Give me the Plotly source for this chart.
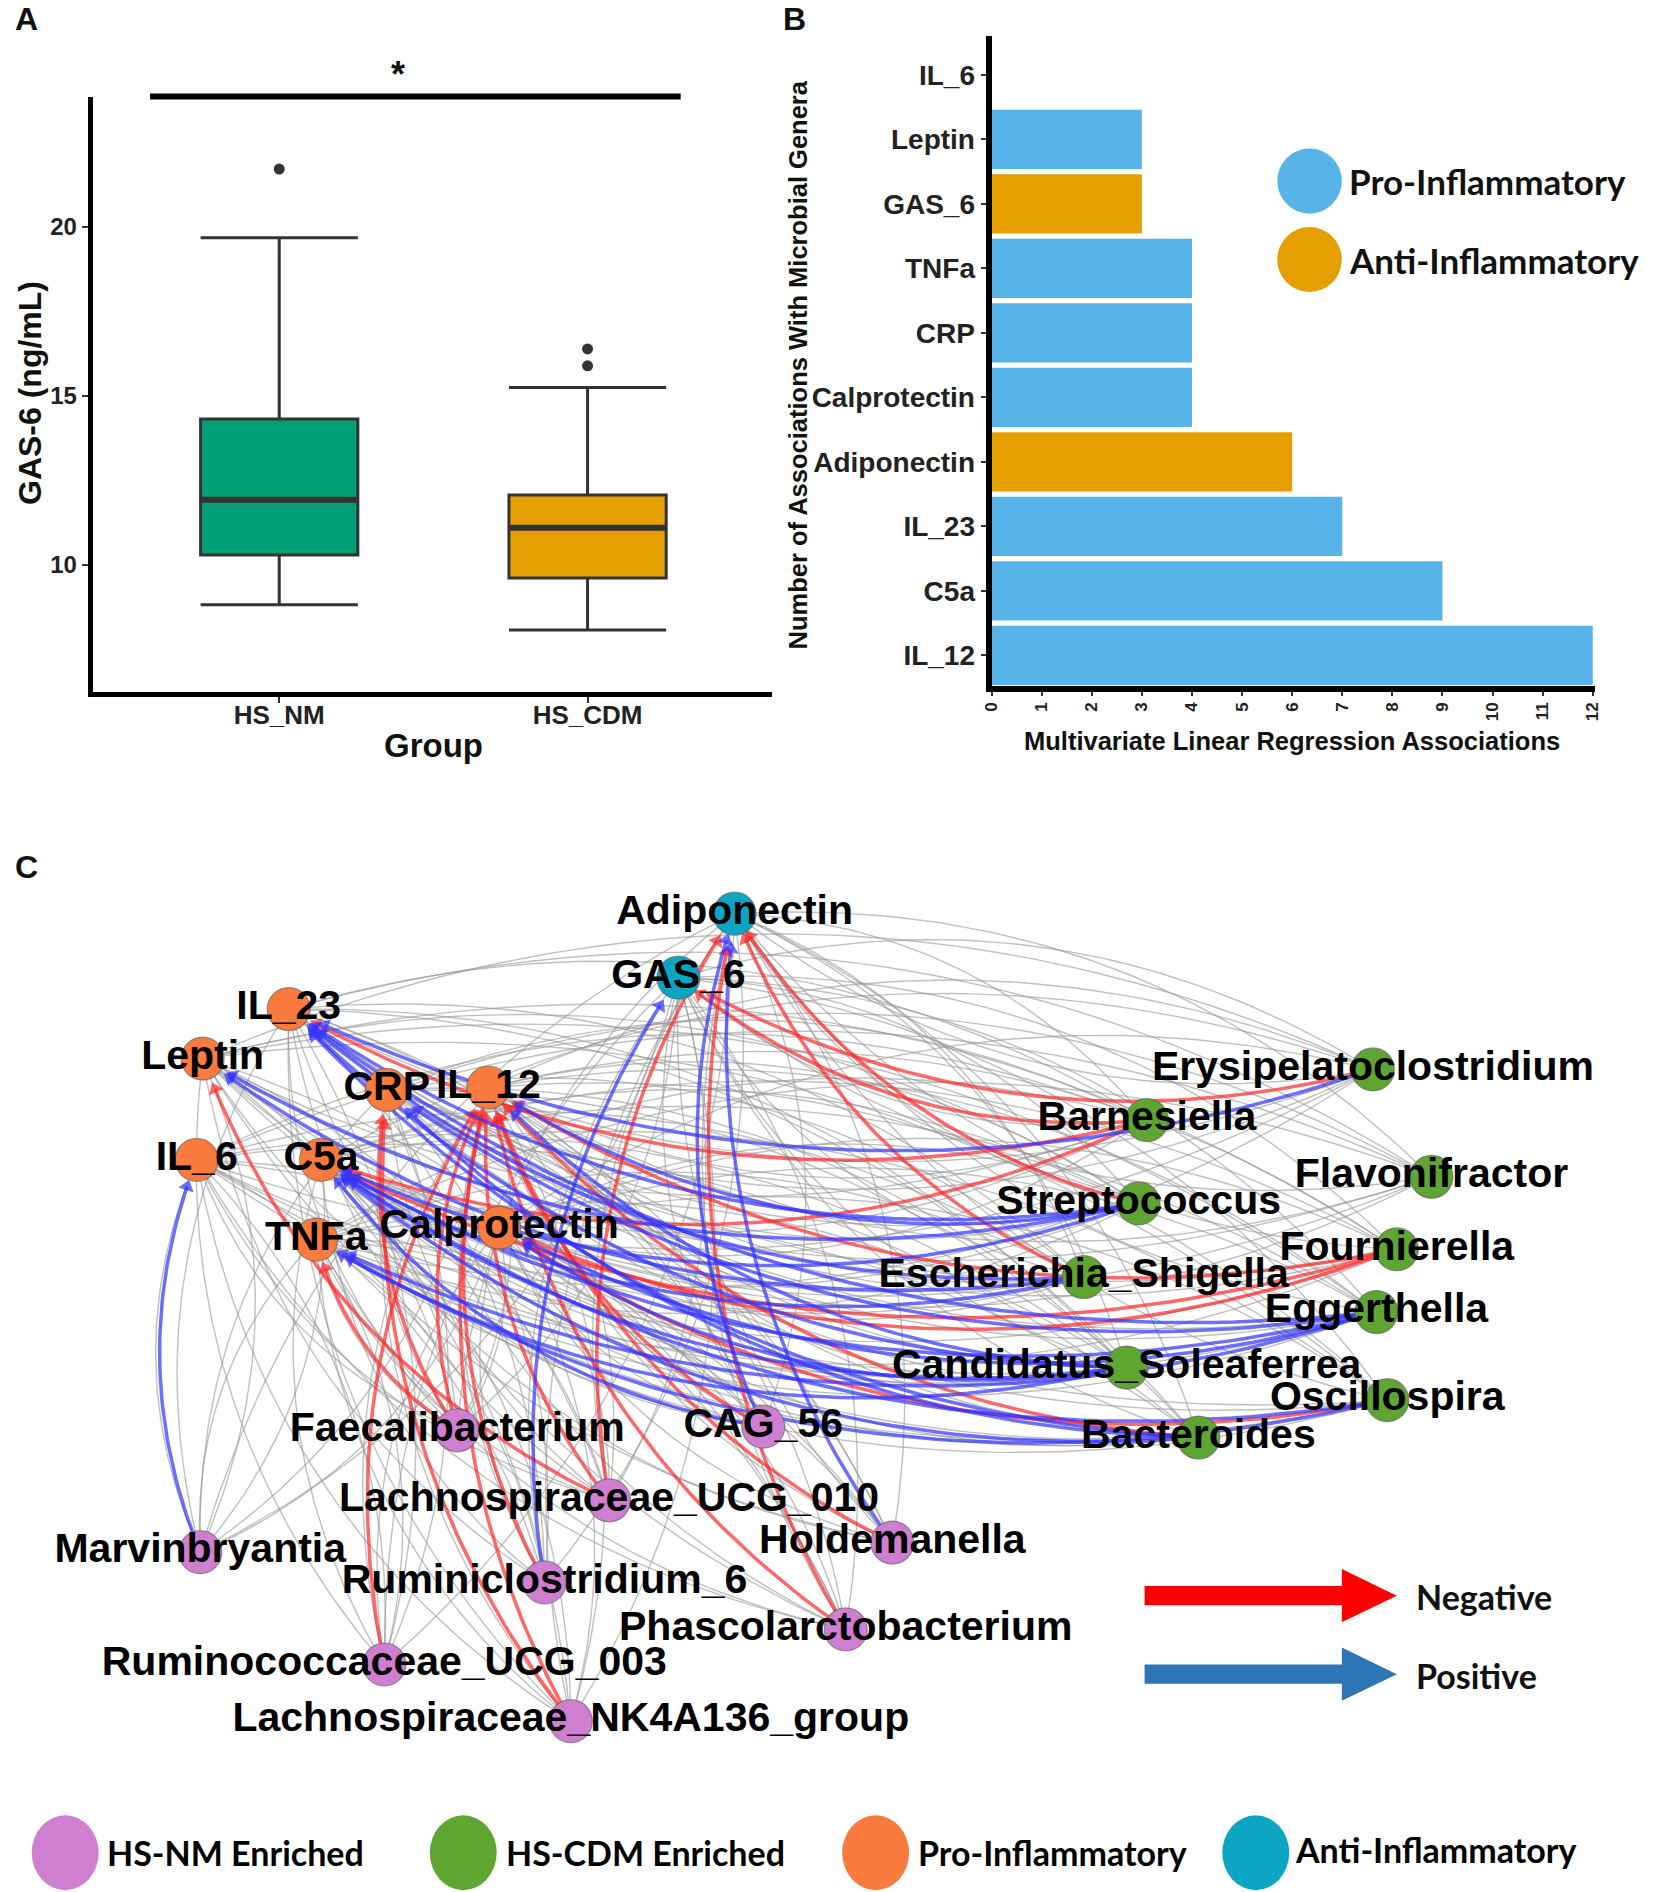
import numpy as np
import plotly.graph_objects as go

W, H = 1654, 1892
LW, LH = 1370.3, 1567.5  # layout units used for placement (figure = LW x LH)


def px(v):
    return v / LW


def py(v):
    return 1 - v / LH


# ---------------- Panel A data ----------------
groups = ["HS_NM", "HS_CDM"]
q1 = [10.29, 9.61]
medians = [11.93, 11.10]
q3 = [14.32, 12.07]
lower_whisker = [8.82, 8.07]
upper_whisker = [19.68, 15.25]
outlier_values = [[21.71], [15.89, 16.39]]
box_fill = ["#03A077", "#E69F00"]

# ---------------- Panel B data ----------------
markers_b = ["IL_12", "C5a", "IL_23", "Adiponectin", "Calprotectin", "CRP",
             "TNFa", "GAS_6", "Leptin", "IL_6"]
assoc_counts = [12, 9, 7, 6, 4, 4, 4, 3, 3, 0]
marker_type = ["Pro", "Pro", "Pro", "Anti", "Pro", "Pro", "Pro", "Anti", "Pro", "Pro"]
type_color = {"Pro": "#56B4E9", "Anti": "#E69F00"}

# ---------------- Panel C data (network layout) ----------------
node_names = ["Adiponectin", "GAS_6", "IL_23", "Leptin", "CRP", "IL_12", "IL_6", "C5a",
              "TNFa", "Calprotectin",
              "Erysipelatoclostridium", "Barnesiella", "Streptococcus", "Flavonifractor",
              "Fournierella", "Escherichia_Shigella", "Eggerthella", "Candidatus_Soleaferrea",
              "Oscillospira", "Bacteroides",
              "Faecalibacterium", "CAG_56", "Lachnospiraceae_UCG_010", "Holdemanella",
              "Marvinbryantia", "Ruminiclostridium_6", "Phascolarctobacterium",
              "Ruminococcaceae_UCG_003", "Lachnospiraceae_NK4A136_group"]
node_x = [607, 560, 234, 162, 316, 401, 157, 261, 257, 410,
          1141, 952, 945, 1190, 1161, 899, 1144, 935, 1153, 995,
          375, 631, 502, 739, 160, 448, 700, 314, 470]
node_y = [757, 810, 836, 877, 903, 901, 961, 961, 1027, 1017,
          886, 928, 997, 975, 1035, 1058, 1087, 1133, 1160, 1191,
          1185, 1182, 1243, 1278, 1286, 1311, 1350, 1379, 1426]
node_group = ["anti", "anti"] + ["pro"] * 8 + ["cdm"] * 10 + ["nm"] * 9
group_color = {"pro": "#FB7A3E", "anti": "#0DA5C4", "cdm": "#5EA532", "nm": "#D07FD0"}

# significant associations: (genus, marker, sign)
sig_edges = [
    ("Ruminococcaceae_UCG_003", "IL_12", -1), ("Lachnospiraceae_NK4A136_group", "IL_12", -1),
    ("Faecalibacterium", "IL_12", -1), ("Lachnospiraceae_UCG_010", "IL_12", -1),
    ("Phascolarctobacterium", "IL_12", -1), ("Holdemanella", "IL_12", -1),
    ("CAG_56", "IL_12", -1), ("Ruminiclostridium_6", "IL_12", -1),
    ("Streptococcus", "IL_12", 1), ("Candidatus_Soleaferrea", "IL_12", 1),
    ("Bacteroides", "IL_12", -1), ("Fournierella", "IL_12", -1),
    ("Eggerthella", "C5a", 1), ("Bacteroides", "C5a", 1), ("Candidatus_Soleaferrea", "C5a", 1),
    ("Escherichia_Shigella", "C5a", 1), ("Fournierella", "C5a", -1), ("Streptococcus", "C5a", 1),
    ("Oscillospira", "C5a", 1), ("CAG_56", "C5a", 1), ("Barnesiella", "C5a", -1),
    ("Erysipelatoclostridium", "IL_23", 1), ("Streptococcus", "IL_23", 1),
    ("Escherichia_Shigella", "IL_23", 1), ("Eggerthella", "IL_23", 1),
    ("Bacteroides", "IL_23", 1), ("Candidatus_Soleaferrea", "IL_23", 1),
    ("Barnesiella", "IL_23", -1),
    ("CAG_56", "Adiponectin", 1), ("Holdemanella", "Adiponectin", 1),
    ("Escherichia_Shigella", "Adiponectin", -1), ("Streptococcus", "Adiponectin", -1),
    ("Lachnospiraceae_UCG_010", "Adiponectin", -1), ("Phascolarctobacterium", "Adiponectin", -1),
    ("Ruminiclostridium_6", "GAS_6", 1), ("Barnesiella", "GAS_6", -1),
    ("Erysipelatoclostridium", "GAS_6", -1),
    ("Eggerthella", "Calprotectin", 1), ("Oscillospira", "Calprotectin", -1),
    ("Candidatus_Soleaferrea", "Calprotectin", 1), ("Fournierella", "Calprotectin", -1),
    ("Faecalibacterium", "CRP", -1), ("Eggerthella", "CRP", 1), ("Bacteroides", "CRP", 1),
    ("Lachnospiraceae_NK4A136_group", "CRP", -1),
    ("Eggerthella", "TNFa", 1), ("Candidatus_Soleaferrea", "TNFa", 1),
    ("Faecalibacterium", "TNFa", -1), ("Oscillospira", "TNFa", 1),
    ("Lachnospiraceae_UCG_010", "Leptin", -1), ("Streptococcus", "Leptin", 1),
    ("Escherichia_Shigella", "Leptin", 1),
    ("Marvinbryantia", "IL_6", 1),
]

legend_c_labels = ["HS-NM Enriched", "HS-CDM Enriched", "Pro-Inflammatory", "Anti-Inflammatory"]
legend_c_groups = ["nm", "cdm", "pro", "anti"]

# ---------------- helpers ----------------
pos = {n: (x, y) for n, x, y in zip(node_names, node_x, node_y)}
cyto = [n for n, g in zip(node_names, node_group) if g in ("pro", "anti")]
microbes = [n for n, g in zip(node_names, node_group) if g in ("cdm", "nm")]
NODE_R = 18.0


def bezier(p0, p2, k, trim_end=0.0, n=60):
    dx, dy = p2[0] - p0[0], p2[1] - p0[1]
    cx = (p0[0] + p2[0]) / 2 + k * dy
    cy = (p0[1] + p2[1]) / 2 - k * dx
    t = np.linspace(0, 1, n)
    x = (1 - t) ** 2 * p0[0] + 2 * (1 - t) * t * cx + t ** 2 * p2[0]
    y = (1 - t) ** 2 * p0[1] + 2 * (1 - t) * t * cy + t ** 2 * p2[1]
    if trim_end > 0:
        d = np.hypot(x - p2[0], y - p2[1])
        keep = d > trim_end
        x, y = x[keep], y[keep]
    return x, y


fig = go.Figure()

# ---------------- Panel A ----------------
for i, g in enumerate(groups):
    fig.add_trace(go.Box(
        x=[i], q1=[q1[i]], median=[medians[i]], q3=[q3[i]],
        lowerfence=[lower_whisker[i]], upperfence=[upper_whisker[i]],
        width=0.51, whiskerwidth=1, fillcolor=box_fill[i],
        line=dict(color="#333333", width=3), boxpoints=False,
        hoverinfo="skip", showlegend=False, xaxis="x", yaxis="y"))
    fig.add_trace(go.Scatter(
        x=[i - 0.255, i + 0.255], y=[medians[i], medians[i]], mode="lines",
        line=dict(color="#333333", width=6), showlegend=False, hoverinfo="skip",
        xaxis="x", yaxis="y"))
    fig.add_trace(go.Scatter(
        x=[i] * len(outlier_values[i]), y=outlier_values[i], mode="markers",
        marker=dict(color="#333333", size=11), showlegend=False, hoverinfo="skip",
        xaxis="x", yaxis="y"))

# ---------------- Panel B ----------------
fig.add_trace(go.Bar(
    y=markers_b, x=assoc_counts, orientation="h",
    marker=dict(color=[type_color[t] for t in marker_type], line=dict(width=0)),
    showlegend=False, hoverinfo="skip", xaxis="x2", yaxis="y2"))

# ---------------- Panel C ----------------
gx, gy = [], []
for i, c in enumerate(cyto):
    for j, m in enumerate(microbes):
        if (i + j) % 2 == 0:
            x, y = bezier(pos[m], pos[c], 0.22)
        else:
            x, y = bezier(pos[c], pos[m], 0.22)
        gx += list(x) + [None]
        gy += list(y) + [None]
fig.add_trace(go.Scatter(x=gx, y=gy, mode="lines",
                         line=dict(color="rgba(150,150,150,0.6)", width=1.4),
                         hoverinfo="skip", showlegend=False, xaxis="x3", yaxis="y3"))

for sign, col in [(-1, "rgba(255,40,40,0.7)"), (1, "rgba(50,50,255,0.7)")]:
    ex, ey, ax_, ay_, ang = [], [], [], [], []
    for m, c, s in sig_edges:
        if s != sign:
            continue
        x, y = bezier(pos[m], pos[c], 0.2, trim_end=NODE_R + 4)
        ex += list(x) + [None]
        ey += list(y) + [None]
        ux, uy = x[-1] - x[-3], y[-1] - y[-3]
        ax_.append(x[-1])
        ay_.append(y[-1])
        ang.append(np.degrees(np.arctan2(ux, -uy)))
    fig.add_trace(go.Scatter(x=ex, y=ey, mode="lines", line=dict(color=col, width=3.5),
                             hoverinfo="skip", showlegend=False, xaxis="x3", yaxis="y3"))
    fig.add_trace(go.Scatter(x=ax_, y=ay_, mode="markers",
                             marker=dict(symbol="triangle-up", size=14, angle=ang, color=col,
                                         line=dict(width=0)),
                             hoverinfo="skip", showlegend=False, xaxis="x3", yaxis="y3"))

fig.add_trace(go.Scatter(
    x=node_x, y=node_y, mode="markers+text", text=node_names,
    textposition="middle center",
    textfont=dict(family="Liberation Sans, Arial, sans-serif", size=41, color="#000000",
                  weight="bold"),
    marker=dict(size=43, color=[group_color[g] for g in node_group],
                line=dict(color="rgba(90,90,90,0.6)", width=1.2)),
    cliponaxis=False, hoverinfo="skip", showlegend=False, xaxis="x3", yaxis="y3"))

# ---------------- Layout ----------------
axis_font = dict(family="Liberation Sans, Arial, sans-serif", color="#222222", weight="bold")
fig.update_layout(
    width=W, height=H, margin=dict(l=0, r=0, t=0, b=0),
    paper_bgcolor="white", plot_bgcolor="rgba(0,0,0,0)",
    bargap=0.08,
    xaxis=dict(domain=[px(70), px(638)], range=[-0.605, 1.597], tickvals=[0, 1],
               ticktext=groups, showline=True, linewidth=5, linecolor="black",
               ticks="outside", ticklen=6, tickwidth=2, tickcolor="#333333",
               ticklabelstandoff=-10,
               tickfont=dict(size=26, **axis_font), showgrid=False, zeroline=False,
               anchor="y"),
    yaxis=dict(domain=[py(573), py(80)], range=[6.25, 23.857], tickvals=[10, 15, 20],
               showline=True, linewidth=5, linecolor="black",
               ticks="outside", ticklen=6, tickwidth=2, tickcolor="#333333",
               tickfont=dict(size=24, **axis_font), showgrid=False, zeroline=False,
               anchor="x"),
    xaxis2=dict(domain=[px(822), px(1327)], range=[0, 12.05], tickvals=list(range(13)),
                showline=True, linewidth=6, linecolor="black", tickangle=-90,
                ticks="outside", ticklen=4, tickwidth=1.5, tickcolor="#333333",
                tickfont=dict(size=17, **axis_font), showgrid=False, zeroline=False,
                anchor="y2"),
    yaxis2=dict(domain=[py(568), py(30)], range=[-0.468, 9.599],
                categoryorder="array", categoryarray=markers_b,
                showline=True, linewidth=6, linecolor="black",
                ticks="outside", ticklen=5, tickwidth=1.5, tickcolor="#333333",
                tickfont=dict(size=28, **axis_font), showgrid=False, zeroline=False,
                anchor="x2"),
    xaxis3=dict(domain=[0, 1], range=[0, LW], visible=False, anchor="y3"),
    yaxis3=dict(domain=[0, 1], range=[LH, 0], visible=False, anchor="x3"),
)

ann = []
title_font = dict(family="Liberation Sans, Arial, sans-serif", color="#111111", weight="bold")


def label(text, x, y, size, font, xanchor="center", angle=0, xref="paper", yref="paper"):
    ann.append(dict(text=text, x=x, y=y, xref=xref, yref=yref, showarrow=False,
                    xanchor=xanchor, yanchor="middle", textangle=angle,
                    font=dict(size=size, **font)))


# panel letters
for lab, x, y in [("A", 15, 16), ("B", 657, 16), ("C", 15, 718)]:
    label(lab, px(x), py(y), 32, title_font)
# axis titles
label("GAS-6 (ng/mL)", px(18), py(326), 32, title_font, angle=-90)
label("Group", px(355), py(618), 33, title_font)
label("Number of Associations With Microbial Genera", px(660), py(302), 25.5, title_font,
      angle=-90)
label("Multivariate Linear Regression Associations", px(1073), py(614), 25.5, title_font)
# significance star
label("*", 0.384, py(62), 36, title_font, xref="x")

shapes = [dict(type="line", xref="x", yref="paper", x0=-0.419, x1=1.302,
               y0=py(80), y1=py(80), line=dict(color="black", width=6))]

# panel B legend
calib = dict(family="Lato, Open Sans, sans-serif", color="#111111", weight="bold")
for lab, key, y in [("Pro-Inflammatory", "Pro", 150), ("Anti-Inflammatory", "Anti", 215)]:
    shapes.append(dict(type="circle", xref="x3", yref="y3", x0=1061, x1=1115, y0=y - 27,
                       y1=y + 27, fillcolor=type_color[key], line=dict(width=0)))
    label(lab, 1119, y, 35, calib, xanchor="left", xref="x3", yref="y3")

# arrow legend
for lab, col, y in [("Negative", "#FF0000", 1322), ("Positive", "#2E75B6", 1387)]:
    shapes.append(dict(type="rect", xref="x3", yref="y3", x0=950, x1=1118, y0=y - 8,
                       y1=y + 8, fillcolor=col, line=dict(width=0)))
    shapes.append(dict(type="path", xref="x3", yref="y3",
                       path=f"M 1115 {y - 22} L 1161 {y} L 1115 {y + 22} Z",
                       fillcolor=col, line=dict(width=0)))
    label(lab, 1175, y + 1, 34, calib, xanchor="left", xref="x3", yref="y3")

# bottom legend
for lab, g, cx, tx, cy in zip(legend_c_labels, legend_c_groups, [47, 380, 725, 1043],
                              [80, 414, 759, 1074], [1535, 1535, 1535, 1532]):
    shapes.append(dict(type="circle", xref="x3", yref="y3", x0=cx - 28, x1=cx + 28,
                       y0=1535 - 31, y1=1535 + 31, fillcolor=group_color[g], line=dict(width=0)))
    label(lab, tx, cy, 34, dict(family="Lato, Liberation Sans, sans-serif", color="#000000",
                                weight="bold"), xanchor="left", xref="x3", yref="y3")

fig.update_layout(annotations=ann, shapes=shapes)
fig.write_html("out.html", config={"displayModeBar": False},
               post_script="document.body.style.margin='0px';")
